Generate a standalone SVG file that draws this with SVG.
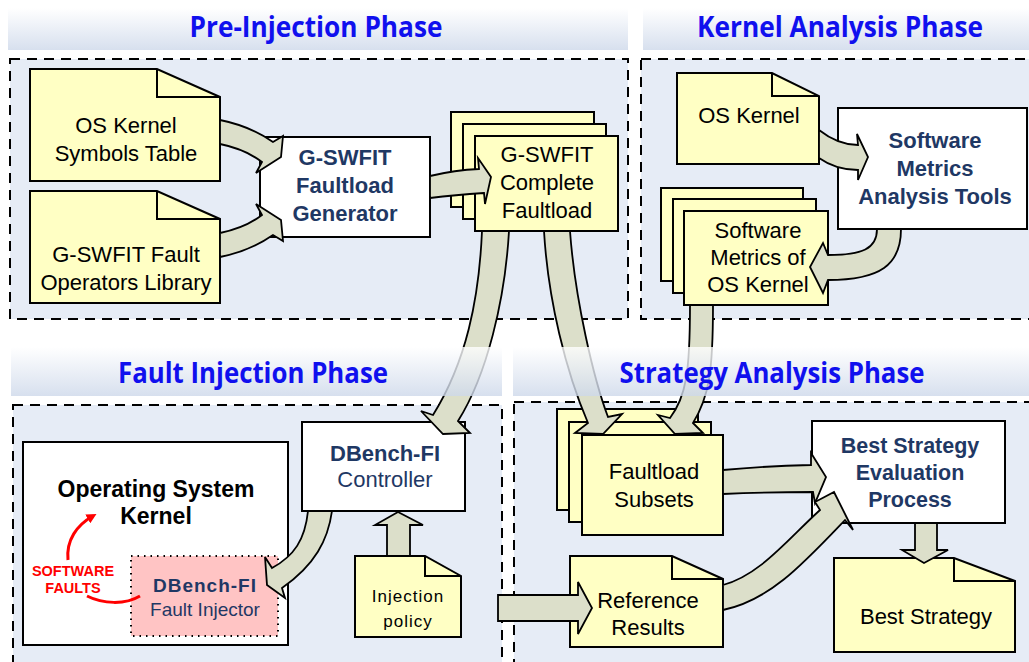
<svg xmlns="http://www.w3.org/2000/svg" width="1029" height="662" viewBox="0 0 1029 662">
<defs>
<linearGradient id="hg" x1="0" y1="0" x2="0" y2="1">
<stop offset="0" stop-color="#ffffff"/>
<stop offset="1" stop-color="#cdd8ea"/>
</linearGradient>
<marker id="rh" markerWidth="10" markerHeight="10" refX="6" refY="5" orient="auto" markerUnits="userSpaceOnUse">
<path d="M0,0 L10,5 L0,10 Z" fill="#ff0000"/>
</marker>
<style>
.panel{fill:#e6ecf6;stroke:#000;stroke-width:2;stroke-dasharray:10 7}
.hdr{fill:url(#hg);opacity:0.8}
.title{font-family:"Open Sans","Liberation Sans",sans-serif;font-weight:700;font-size:29px;fill:#1010ee;text-anchor:middle}
.doc{fill:#ffffc4;stroke:#000;stroke-width:2;stroke-linejoin:miter}
.fold{fill:none;stroke:#000;stroke-width:2}
.box{fill:#ffffff;stroke:#000;stroke-width:2}
.arr{fill:#dcdfca;stroke:#000;stroke-width:1.8;stroke-linejoin:miter}
.t{font-family:"Liberation Sans",Arial,sans-serif;font-size:22px;fill:#000;text-anchor:middle}
.tb{font-family:"Liberation Sans",Arial,sans-serif;font-size:22px;font-weight:700;fill:#1f3864;text-anchor:middle}
.tn{font-family:"Liberation Sans",Arial,sans-serif;font-size:22px;fill:#1f3864;text-anchor:middle}
.red{font-family:"Liberation Sans",Arial,sans-serif;font-size:14.5px;font-weight:700;fill:#ff0000;text-anchor:middle}
</style>
</defs>

<g id="panels">
<rect class="panel" x="10" y="59" width="618" height="260"/>
<rect class="panel" x="641" y="59" width="400" height="260"/>
<rect class="panel" x="13" y="405" width="489" height="270"/>
<rect class="panel" x="514" y="402" width="530" height="275"/>
</g>

<g id="symbols-table">
<path class="doc" d="M30,69 L157,69 L220,97 L220,181 L30,181 Z"/>
<path class="fold" d="M157,69 L157,97 L220,97"/>
<text class="t" x="126" y="133">OS Kernel</text>
<text class="t" x="126" y="161">Symbols Table</text>
</g>

<g id="fault-operators-library">
<path class="doc" d="M30,191 L157,191 L220,219 L220,303 L30,303 Z"/>
<path class="fold" d="M157,191 L157,219 L220,219"/>
<text class="t" x="126" y="262">G-SWFIT Fault</text>
<text class="t" x="126" y="290">Operators Library</text>
</g>

<g id="faultload-generator">
<rect class="box" x="260" y="137" width="170" height="100"/>
<text class="tb" x="345" y="165">G-SWFIT</text>
<text class="tb" x="345" y="193">Faultload</text>
<text class="tb" x="345" y="221">Generator</text>
</g>

<g id="complete-faultload">
<rect class="doc" x="451" y="112" width="143" height="95"/>
<rect class="doc" x="463" y="124" width="143" height="95"/>
<rect class="doc" x="475" y="136" width="143" height="95"/>
<text class="t" x="547" y="162">G-SWFIT</text>
<text class="t" x="547" y="190">Complete</text>
<text class="t" x="547" y="218">Faultload</text>
</g>

<g id="os-kernel-doc">
<path class="doc" d="M677,73 L772,73 L819,96 L819,164 L677,164 Z"/>
<path class="fold" d="M772,73 L772,96 L819,96"/>
<text class="t" x="749" y="123">OS Kernel</text>
</g>

<g id="metrics-tools">
<rect class="box" x="838" y="108" width="189" height="121"/>
<text class="tb" x="935" y="148">Software</text>
<text class="tb" x="935" y="176">Metrics</text>
<text class="tb" x="935" y="204">Analysis Tools</text>
</g>

<g id="metrics-of-kernel">
<rect class="doc" x="661" y="188" width="142" height="93"/>
<rect class="doc" x="673" y="199" width="143" height="94"/>
<rect class="doc" x="684" y="211" width="144" height="94"/>
<text class="t" x="758" y="238">Software</text>
<text class="t" x="758" y="265">Metrics of</text>
<text class="t" x="758" y="292">OS Kernel</text>
</g>

<g id="os-kernel-box">
<rect class="box" x="23" y="442" width="265" height="203"/>
<text class="t" x="156" y="497" style="font-weight:700;font-size:23px">Operating System</text>
<text class="t" x="156" y="524" style="font-weight:700;font-size:23px">Kernel</text>
</g>

<g id="fault-injector">
<rect x="131" y="556" width="147" height="80" fill="#ffc4c4" stroke="#000" stroke-width="2" stroke-dasharray="1.5 5"/>
<text class="tb" x="205" y="592" style="font-size:19px;letter-spacing:1px">DBench-FI</text>
<text class="tn" x="205" y="616" style="font-size:19px">Fault Injector</text>
</g>

<g id="software-faults">
<text class="red" x="73" y="576">SOFTWARE</text>
<text class="red" x="73" y="593">FAULTS</text>
<path d="M68,560 C66,540 77,525 93,516" fill="none" stroke="#ff0000" stroke-width="3" marker-end="url(#rh)"/>
<path d="M140,596 C125,605 103,604 87,596" fill="none" stroke="#ff0000" stroke-width="3"/>
</g>

<g id="controller">
<rect class="box" x="302" y="422" width="163" height="89"/>
<text class="tb" x="385" y="461">DBench-FI</text>
<text class="tn" x="385" y="487">Controller</text>
</g>

<g id="injection-policy">
<path class="doc" d="M355,556 L425,556 L461,576 L461,637 L355,637 Z"/>
<path class="fold" d="M425,556 L425,576 L461,576"/>
<text class="t" x="408" y="602" style="font-size:17px;letter-spacing:1px">Injection</text>
<text class="t" x="408" y="627" style="font-size:17px;letter-spacing:1px">policy</text>
</g>

<g id="faultload-subsets">
<rect class="doc" x="557" y="409" width="141" height="101"/>
<rect class="doc" x="569" y="422" width="142" height="100"/>
<rect class="doc" x="582" y="435" width="141" height="100"/>
<text class="t" x="654" y="479">Faultload</text>
<text class="t" x="654" y="507">Subsets</text>
</g>

<g id="best-strategy-process">
<rect class="box" x="812" y="421" width="193" height="102"/>
<text class="tb" x="910" y="453" style="font-size:21.5px">Best Strategy</text>
<text class="tb" x="910" y="480" style="font-size:21.5px">Evaluation</text>
<text class="tb" x="910" y="507" style="font-size:21.5px">Process</text>
</g>

<g id="reference-results">
<path class="doc" d="M570,556 L672,556 L723,579 L723,647 L570,647 Z"/>
<path class="fold" d="M672,556 L672,579 L723,579"/>
<text class="t" x="648" y="608">Reference</text>
<text class="t" x="648" y="635">Results</text>
</g>

<g id="best-strategy">
<path class="doc" d="M834,558 L954,558 L1015,581 L1015,652 L834,652 Z"/>
<path class="fold" d="M954,558 L954,581 L1015,581"/>
<text class="t" x="926" y="624">Best Strategy</text>
</g>

<g id="connectors">
<path class="arr" d="M220,120 Q250,126 273,142 L283,136 L281,157 L256,173 L262,162 Q245,149 220,144 Z"/>
<path class="arr" d="M220,257 Q250,251 273,235 L283,241 L281,220 L256,204 L262,215 Q245,228 220,233 Z"/>
<path class="arr" d="M430,176 Q455,170 479,169 L478,158 L491,177 L485,204 L484,193 Q455,195 430,198 Z"/>
<path class="arr" d="M482,231 C479,300 466,362 433,415 L421,411 L443,434 L470,433 L458,421 C487,375 505,300 509,231 Z"/>
<path class="arr" d="M544,231 C548,300 566,372 588,423 L575,433 L603,434 L622,414 L608,417 C594,380 575,300 570,231 Z"/>
<path class="arr" d="M690,305 C690,372 686,397 670,418 L658,415 L675,434 L703,433 L693,423 C709,397 713,372 713,305 Z"/>
<path class="arr" d="M819,130 Q838,145 858,145 L857,134 L868,157 L858,180 L858,170 Q836,170 819,158 Z"/>
<path class="arr" d="M877,229 C877,249 862,255 828,255 L823,243 L810,267 L823,293 L828,280 C880,280 901,265 901,229 Z"/>
<path class="arr" d="M308,511 C305,540 294,556 272,568 L265,557 L267,585 L285,598 L282,588 C315,565 328,540 332,511 Z"/>
<path class="arr" d="M387,556 L387,525 L375,525 L398,512 L423,525 L410,525 L410,556 Z"/>
<path class="arr" d="M498,595 L578,595 L578,582 L592,608 L578,634 L578,621 L498,621 Z"/>
<path class="arr" d="M723,470 Q765,466 811,465 L811,453 L826,477 L815,503 L813,492 Q765,492 723,494 Z"/>
<path class="arr" d="M723,585 C760,575 787,540 820,510 L815,502 L834,492 L853,530 L845,520 C802,565 770,600 723,610 Z"/>
<path class="arr" d="M915,523 L915,550 L902,550 L924,563 L948,550 L937,550 L937,523 Z"/>
</g>

<g id="headers">
<rect class="hdr" x="8" y="8" width="620" height="42"/>
<rect class="hdr" x="643" y="8" width="386" height="42"/>
<rect class="hdr" x="11" y="347" width="491" height="49"/>
<rect class="hdr" x="513" y="347" width="516" height="49"/>
<text class="title" x="316" y="37" textLength="253" lengthAdjust="spacingAndGlyphs">Pre-Injection Phase</text>
<text class="title" x="840" y="37" textLength="286" lengthAdjust="spacingAndGlyphs">Kernel Analysis Phase</text>
<text class="title" x="253" y="383" textLength="270" lengthAdjust="spacingAndGlyphs">Fault Injection Phase</text>
<text class="title" x="772" y="383" textLength="305" lengthAdjust="spacingAndGlyphs">Strategy Analysis Phase</text>
</g>
</svg>
